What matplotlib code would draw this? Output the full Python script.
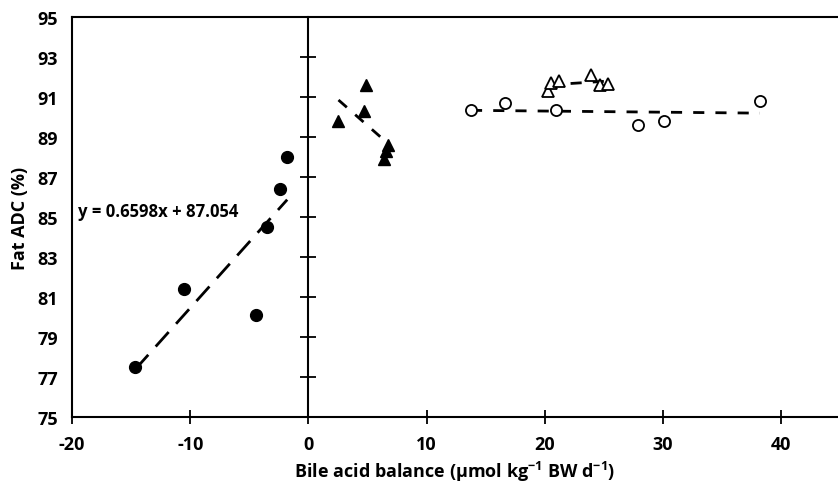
import numpy as np
import matplotlib.pyplot as plt
from matplotlib import font_manager

names = {f.name for f in font_manager.fontManager.ttflist}
main_font = 'Liberation Sans Narrow' if 'Liberation Sans Narrow' in names else 'Open Sans'
plt.rcParams['font.family'] = [main_font, 'DejaVu Sans']
plt.rcParams['font.weight'] = 'bold'
plt.rcParams['axes.unicode_minus'] = False
plt.rcParams['mathtext.fontset'] = 'custom'
plt.rcParams['mathtext.rm'] = main_font + ':bold'
plt.rcParams['mathtext.default'] = 'rm'

# negative balance group (filled circles)
neg_x = [-14.65, -10.5, -4.4, -3.5, -2.4, -1.8]
neg_y = [77.5, 81.4, 80.1, 84.5, 86.4, 88.0]
neg_slope, neg_icpt = 0.6598, 87.054

# small positive balance (filled triangles)
tri_x = [2.54, 4.66, 4.86, 6.36, 6.6, 6.75]
tri_y = [89.8, 90.3, 91.6, 87.9, 88.3, 88.6]

# open triangles
otri_x = [20.3, 20.5, 21.2, 23.9, 24.7, 25.3]
otri_y = [91.3, 91.7, 91.8, 92.1, 91.6, 91.65]

# open circles
ocir_x = [13.75, 16.6, 20.9, 27.9, 30.1, 38.2]
ocir_y = [90.37, 90.7, 90.35, 89.6, 89.8, 90.8]

xmin, xmax = -20, 44.8

fig = plt.figure(figsize=(8.38, 4.85), dpi=100)
ax = fig.add_axes([0.086, 0.138, 0.914, 0.825])


def trend(x, y, style, slope=None, icpt=None):
    x = np.array(x)
    if slope is None:
        slope, icpt = np.polyfit(x, y, 1)
    xs = np.array([x.min(), x.max()])
    ax.plot(xs, slope * xs + icpt, color='black', lw=2, linestyle=style, zorder=2)


trend(neg_x, neg_y, (0, (7, 4)), neg_slope, neg_icpt)
trend(tri_x, tri_y, (0, (4, 4)))
trend(otri_x, otri_y, (0, (4, 4)))
trend(ocir_x, ocir_y, (0, (4, 4)))

ax.plot(neg_x, neg_y, 'o', color='black', ms=8.5, zorder=3)
ax.plot(tri_x, tri_y, '^', color='black', ms=8.5, zorder=3)
ax.plot(otri_x, otri_y, '^', mfc='white', mec='black', mew=1.3, ms=8.5, zorder=3)
ax.plot(ocir_x, ocir_y, 'o', mfc='white', mec='black', mew=1.3, ms=8, zorder=3)

ax.text(-19.5, 85.3, 'y = 0.6598x + 87.054', fontsize=12, fontweight='bold',
        va='center', ha='left')

ax.set_xlim(xmin, xmax)
ax.set_ylim(75, 95)
ax.set_xticks(range(-20, 41, 10))
ax.set_yticks(range(75, 96, 2))
ax.tick_params(axis='y', length=0, pad=10, labelsize=13)
ax.tick_params(axis='x', direction='inout', length=10, width=1.3, pad=8, labelsize=13)
for s in ['left', 'bottom', 'top']:
    ax.spines[s].set_linewidth(1.5)
ax.spines['right'].set_visible(False)

# vertical axis crossing at x = 0
sec = ax.secondary_yaxis((0 - xmin) / (xmax - xmin))
sec.set_yticks(range(75, 96, 2))
sec.tick_params(direction='inout', length=12, width=1.3, labelleft=False, labelright=False)
sec.spines['left'].set_linewidth(1.5)
sec.spines['right'].set_linewidth(1.5)

ax.set_ylabel('Fat ADC (%)', fontsize=13, fontweight='bold', labelpad=6)
ax.set_xlabel('Bile acid balance (µmol kg$^{-1}$ BW d$^{-1}$)', fontsize=13,
              fontweight='bold', labelpad=4)

fig.savefig('out.png', dpi=100)
